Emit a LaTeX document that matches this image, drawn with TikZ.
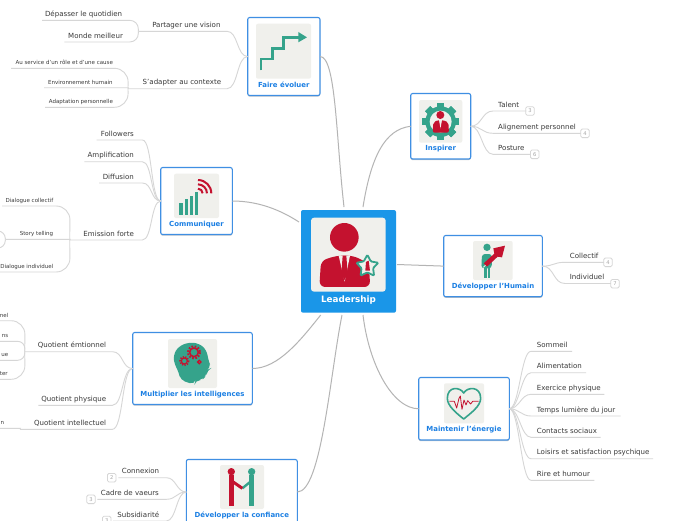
\documentclass[tikz,border=0pt]{standalone}
\usepackage{fontspec}
\setmainfont{DejaVu Sans}
\usetikzlibrary{shapes.geometric,shadows}
\definecolor{bluebr}{HTML}{3F8FE3}
\definecolor{bluetx}{HTML}{1B7FE3}
\definecolor{bluefill}{HTML}{1A96E8}
\definecolor{imgbg}{HTML}{F0F0EC}
\definecolor{ired}{HTML}{C4122F}
\definecolor{igreen}{HTML}{35A38B}
\definecolor{linkc}{HTML}{D6D6D6}
\definecolor{mainc}{HTML}{B4B4B4}
\definecolor{leaftx}{HTML}{3A3A3A}
\tikzset{
  box/.style={draw=bluebr,line width=1.1pt,fill=white,rounded corners=2pt,inner sep=0pt,outer sep=0pt,
    drop shadow={shadow xshift=0pt,shadow yshift=-1.2pt,opacity=.45}},
  rootbox/.style={fill=bluefill,rounded corners=2pt,inner sep=0pt,outer sep=0pt},
  imgpanel/.style={fill=imgbg,rounded corners=2pt},
  boxlabel/.style={font=\fontsize{6.95}{8}\selectfont\bfseries,text=bluetx,inner sep=0pt},
  rootlabel/.style={font=\fontsize{8.8}{10}\selectfont\bfseries,text=white,inner sep=0pt},
  leaf/.style={font=\fontsize{7.05}{8}\selectfont,text=leaftx,inner xsep=0pt,inner ysep=3.8pt,text depth=0pt,text height=5pt},
  small/.style={font=\fontsize{5.5}{6}\selectfont,text=leaftx,inner xsep=0pt,inner ysep=3.2pt,text depth=0pt,text height=4pt},
  link/.style={draw=linkc,line width=.9pt},
  bracket/.style={link,rounded corners=9pt},
  tightbracket/.style={link,rounded corners=7.5pt},
  widebracket/.style={link,rounded corners=14pt},
  mainlink/.style={draw=mainc,line width=1pt},
  badge/.style={draw=linkc,line width=.8pt,fill=white,rounded corners=1.5pt,minimum width=8.6pt,minimum height=8.6pt,inner sep=0pt,font=\fontsize{5.2}{5}\selectfont,text=gray!70},
}
\newcommand{\boxat}[6][box]{%
  \pgfmathsetlengthmacro\bw{(#5-#3)*1pt}\pgfmathsetlengthmacro\bh{(#6-#4)*1pt}%
  \node[#1,minimum width=\bw,minimum height=\bh] (#2) at ({(#3+#5)/2},{(#4+#6)/2}) {};}
\newcommand{\leafR}[7][leaf]{%
  \pgfmathsetlengthmacro\lw{(#5-#3)*1pt}\pgfmathsetlengthmacro\lp{(#6-#3)*1pt}%
  \node[#1,anchor=south west] (#2) at (#3,#4) {\makebox[\lw][l]{\hspace{\lp}#7}};}
\newcommand{\leafL}[7][leaf]{%
  \pgfmathsetlengthmacro\lw{(#5-#3)*1pt}\pgfmathsetlengthmacro\lp{(#5-#6)*1pt}%
  \node[#1,anchor=south west] (#2) at (#3,#4) {\makebox[\lw][r]{#7\hspace{\lp}}};}
\newcommand{\toL}[3][8]{\draw[link] (#2.west) .. controls +(-#1,0) and +(#1,0) .. (#3.south east) -- (#3.south west);}
\newcommand{\toR}[3][8]{\draw[link] (#2.east) .. controls +(#1,0) and +(-#1,0) .. (#3.south west) -- (#3.south east);}
\newcommand{\brk}[3][bracket]{\draw[#1] (#2.south west) -- (#3.south east) -- (#3.south west);}
\begin{document}
\begin{tikzpicture}[x=1pt,y=-1pt]
\useasboundingbox (0,0) rectangle (696,520);
\clip (0,0) rectangle (696,520);
\fill[white] (0,0) rectangle (696,520);

% boxes
\boxat[rootbox]{lead}{301}{210}{396}{312.7}
\boxat{faire}{247.7}{17.5}{320}{95.5}
\boxat{insp}{410.7}{93.5}{470.7}{159}
\boxat{hum}{443.7}{235.5}{542.3}{296.7}
\boxat{ener}{418.7}{377.5}{509.3}{440}
\boxat{conf}{186.3}{459.5}{297.3}{540}
\boxat{intel}{132.7}{332.5}{252.3}{404.5}
\boxat{comm}{160.7}{167.5}{232.3}{234.5}

% image panels
\fill[imgpanel,rounded corners=3pt] (311,217.7) rectangle (385.7,291.7);
\fill[imgpanel] (256,23.7) rectangle (311,78.7);
\fill[imgpanel] (419,100) rectangle (462.3,142.7);
\fill[imgpanel] (473,241) rectangle (512.7,280);
\fill[imgpanel] (444,383.3) rectangle (484,423.3);
\fill[imgpanel] (220,465) rectangle (264,509);
\fill[imgpanel] (168,339) rectangle (217,388);
\fill[imgpanel] (174,173.7) rectangle (219,218);

% box labels
\node[rootlabel] (leadL) at (348.5,300.3) {Leadership};
\node[boxlabel] (faireL) at (283.8,84.7) {Faire évoluer};
\node[boxlabel] (inspL) at (440.7,148.6) {Inspirer};
\node[boxlabel] (humL) at (493,286.9) {Développer l'Humain};
\node[boxlabel] (enerL) at (464,429.5) {Maintenir l'énergie};
\node[boxlabel] (confL) at (241.8,515.5) {Développer la confiance};
\node[boxlabel] (intelL) at (192.5,394.5) {Multiplier les intelligences};
\node[boxlabel] (commL) at (196.5,224.5) {Communiquer};

% icon: leadership
\begin{scope}[shift={(290,200)},x=.3333pt,y=-.3333pt]
  \fill[ired] (163,112) circle (43);
  \fill[ired,rounded corners=6pt] (88,261) -- (93,182) -- (140,167) -- (190,167) -- (236,190) -- (241,261) -- cycle;
  \fill[imgbg] (146,167) -- (180,167) -- (164,245) -- cycle;
  \fill[ired] (158,167) -- (169,167) -- (173,222) -- (163.5,240) -- (154,222) -- cycle;
  \node[star,star points=5,star point ratio=1.9,draw=igreen,fill=imgbg,line width=1.8pt,minimum size=23pt,inner sep=0pt,rounded corners=1pt] (leadstar) at (232,199) {};
  \fill[ired] (228,186) -- (236,182) -- (240,212) -- (226,212) -- cycle;
\end{scope}

% icon: stairs
\begin{scope}[x=.3333pt,y=-.3333pt]
  \draw[igreen,line width=2.5pt] (783,211) -- (783,177) -- (817,177) -- (817,145) -- (850,145) -- (850,112) -- (897,112);
  \fill[igreen] (895,96) -- (921,112) -- (895,127) -- cycle;
\end{scope}

% icon: gear
\begin{scope}[shift={(400,85)},x=.3333pt,y=-.3333pt]
  \foreach \a in {0,45,...,315}
    \fill[igreen,rotate around={\a:(122,110)}] (111,55) rectangle (133,165);
  \fill[igreen] (122,110) circle (46);
  \fill[imgbg] (122,110) circle (33);
  \fill[ired] (121,90) circle (12);
  \fill[ired,rounded corners=2pt] (98,143) -- (100,112) -- (115,105) -- (128,105) -- (145,112) -- (147,143) -- cycle;
  \fill[imgbg] (117,105) -- (126,105) -- (121.5,130) -- cycle;
\end{scope}

% icon: human
\begin{scope}[shift={(435,230)},x=.3333pt,y=-.3333pt]
  \fill[igreen] (156,52) circle (11);
  \fill[igreen,rounded corners=3pt] (139,115) -- (141,72) -- (171,72) -- (170,115) -- cycle;
  \fill[igreen] (147,100) rectangle (155.5,143);
  \fill[igreen] (157.5,100) rectangle (166,143);
  \draw[imgbg,line width=.8pt] (145,112) -- (184,76);
  \fill[ired] (146,100) -- (178,71) -- (175,55) -- (210,47) -- (201,82) -- (188,80) -- (156,110) -- cycle;
\end{scope}

% icon: heart
\begin{scope}[shift={(410,330)},x=.3333pt,y=-.3333pt]
  \draw[igreen,line width=1.6pt,line join=round] (161,189) .. controls (150,170) and (112,168) .. (112,205)
     .. controls (112,228) and (140,250) .. (161,267) .. controls (182,250) and (212,228) .. (212,205)
     .. controls (212,168) and (172,170) .. (161,189) -- cycle;
  \draw[ired,line width=.8pt,line join=round] (118,214) -- (133,214) -- (140,234) -- (147,205) -- (151,198) -- (156,238) -- (162,210) -- (168,225) -- (173,212) -- (182,222) -- (188,214) -- (206,214);
\end{scope}

% icon: handshake
\begin{scope}[shift={(90,440)},x=.3333pt,y=-.3333pt]
  \fill[ired] (424,95) circle (11);
  \fill[igreen] (485,95) circle (11);
  \draw[igreen,line width=2.4pt] (485,122) -- (457,145);
  \draw[igreen,line width=4.4pt] (485,106) -- (485,197);
  \draw[ired,line width=4.4pt] (424,106) -- (424,197);
  \draw[ired,line width=3pt] (424,122) -- (457,145);
\end{scope}

% icon: head
\begin{scope}[shift={(0,300)},x=.3333pt,y=-.3333pt]
  \fill[igreen,rounded corners=5pt] (541,240) -- (536,215) -- (523,192) -- (520,165) -- (535,140) -- (565,127) -- (597,130) -- (620,150) -- (625,180) -- (634,204) -- (621,210) -- (619,228) -- (606,240) -- (587,240) -- (583,254) -- cycle;
  \draw[ired,line width=1.5pt] (582,157) circle (13);
  \draw[ired,line width=2pt,dash pattern=on 1.6pt off 1.6pt] (582,157) circle (18);
  \draw[ired,line width=1.2pt] (553,183) circle (9);
  \draw[ired,line width=1.6pt,dash pattern=on 1.3pt off 1.3pt] (553,183) circle (13);
  \draw[ired,line width=1.3pt] (598,186) circle (5);
\end{scope}

% icon: signal
\begin{scope}[shift={(0,160)},x=.3333pt,y=-.3333pt]
  \fill[igreen] (538,130) rectangle (548,165);
  \fill[igreen] (555,118) rectangle (564,165);
  \fill[igreen] (570,108) rectangle (580,165);
  \fill[igreen] (586,97) rectangle (595,165);
  \foreach \r in {14,27,40}
    \draw[ired,line width=2pt] (594,100-\r) arc[start angle=-90,end angle=0,radius=\r];
\end{scope}

% leaves: Faire
\leafL{partager}{138.3}{31.3}{226.7}{220.3}{Partager une vision}
\leafL{adapter}{128}{88.7}{226.7}{221}{S'adapter au contexte}
\leafL{depasser}{42}{20.3}{138.3}{122}{Dépasser le quotidien}
\leafL{monde}{64.3}{42}{138.3}{122.7}{Monde meilleur}
\leafL[small]{service}{11}{68.3}{128}{112.7}{Au service d'un rôle et d'une cause}
\leafL[small]{envir}{44}{87.7}{128}{112.5}{Environnement humain}
\leafL[small]{adapt}{45}{107.3}{128}{112.7}{Adaptation personnelle}
% leaves: Communiquer
\leafL{follow}{96.7}{140}{142}{133.7}{Followers}
\leafL{ampli}{84.3}{161.7}{142}{133.7}{Amplification}
\leafL{diffu}{99}{183}{142}{133.7}{Diffusion}
\leafL{emiss}{69.7}{240}{142}{133.7}{Emission forte}
\leafL[small]{dcoll}{2}{206}{69.7}{53}{Dialogue collectif}
\leafL[small]{story}{5.3}{239.3}{69.7}{53}{Story telling}
\leafL[small]{dind}{0}{272}{69.7}{53}{Dialogue individuel}
\coordinate (storyA) at (-6,231);
\coordinate (storyB) at (-6,248);
% leaves: Intelligences
\leafL{qemo}{24.7}{351.7}{112}{106}{Quotient émtionnel}
\leafL{qphy}{38.3}{405.3}{112}{106}{Quotient physique}
\leafL{qint}{20}{429.3}{112}{106}{Quotient intellectuel}
\leafL[small]{k1}{-10}{320.7}{24.7}{8}{nel}
\leafL[small]{k2}{-10}{341.3}{24.7}{8}{ns}
\leafL[small]{k3}{-10}{360.3}{24.7}{8}{ue}
\leafL[small]{k4}{-10}{379.3}{24.7}{7.5}{ter}
\leafL[small]{k5}{-10}{428.3}{20}{4}{n}
% leaves: Confiance
\leafL{conx}{118.3}{477.7}{166}{159}{Connexion}
\leafL{cadre}{97.3}{499.3}{166}{158.7}{Cadre de vaeurs}
\leafL{subs}{113}{521}{166}{159}{Subsidiarité}
% leaves: Inspirer
\leafR{talent}{493}{111}{526}{498}{Talent}
\leafR{align}{493}{133.3}{580.5}{498}{Alignement personnel}
\leafR{post}{493}{154.3}{530.5}{498}{Posture}
% leaves: Humain
\leafR{coll}{565}{262.3}{603.5}{569.7}{Collectif}
\leafR{indi}{565}{283.5}{610.5}{569.7}{Individuel}
% leaves: Energie
\leafR{somm}{531}{351.3}{571.7}{536.7}{Sommeil}
\leafR{alim}{531}{372.7}{585.7}{536.7}{Alimentation}
\leafR{exer}{531}{394.3}{604}{536.7}{Exercice physique}
\leafR{temps}{531}{416}{620.3}{536.7}{Temps lumière du jour}
\leafR{cont}{531}{437.3}{600.3}{536.7}{Contacts sociaux}
\leafR{lois}{531}{458.7}{652.7}{536.7}{Loisirs et satisfaction psychique}
\leafR{rire}{531}{480.3}{594}{536.7}{Rire et humour}

% badges
\node[badge] (b1) at (530,111) {3};
\node[badge] (b2) at (585,133.3) {4};
\node[badge] (b3) at (534.7,154.3) {6};
\node[badge] (b4) at (608,262.3) {4};
\node[badge] (b5) at (615,283.7) {7};
\node[badge] (b6) at (111.7,477.7) {2};
\node[badge] (b7) at (91,499.3) {3};
\node[badge] (b8) at (106.7,520.5) {3};

% level-1 connectors
\toL[11]{faire}{partager}
\toL[11]{faire}{adapter}
\toL[10]{comm}{follow}
\toL[10]{comm}{ampli}
\toL[10]{comm}{diffu}
\toL[10]{comm}{emiss}
\toL[11]{intel}{qemo}
\toL[11]{intel}{qphy}
\toL[11]{intel}{qint}
\draw[link] (conf.west |- 0,492) .. controls +(-10,0) and +(10,0) .. (conx.south east) -- (conx.south west);
\draw[link] (conf.west |- 0,492) .. controls +(-10,0) and +(10,0) .. (cadre.south east) -- (cadre.south west);
\draw[link] (conf.west |- 0,492) .. controls +(-10,0) and +(10,0) .. (subs.south east) -- (subs.south west);
\toR[11]{insp}{talent}
\toR[11]{insp}{align}
\toR[11]{insp}{post}
\toR[12]{hum}{coll}
\toR[12]{hum}{indi}
\toR[10]{ener}{somm}
\toR[10]{ener}{alim}
\toR[10]{ener}{exer}
\toR[10]{ener}{temps}
\toR[10]{ener}{cont}
\toR[10]{ener}{lois}
\toR[10]{ener}{rire}

% level-2 brackets
\brk{partager}{depasser}
\brk{partager}{monde}
\brk[widebracket]{adapter}{service}
\brk[link]{adapter}{envir}
\brk[widebracket]{adapter}{adapt}
\brk[widebracket]{emiss}{dcoll}
\brk[link]{emiss}{story}
\brk[widebracket]{emiss}{dind}
\draw[tightbracket] (story.south west) |- (storyA);
\draw[tightbracket] (story.south west) |- (storyB);
\brk[widebracket]{qemo}{k1}
\brk[tightbracket]{qemo}{k2}
\brk[tightbracket]{qemo}{k3}
\brk[widebracket]{qemo}{k4}
\brk[link]{qint}{k5}

% main connectors
\coordinate (tFaire) at (344,207);
\coordinate (tInsp) at (363,207);
\coordinate (tComm) at (299,222);
\coordinate (tHum) at (397,264.5);
\coordinate (tEner) at (363,315);
\coordinate (tConf) at (342,315);
\coordinate (tIntel) at (320.7,315);
\draw[mainlink] (faire.east) .. controls +(16,0) and +(-8,-70) .. (tFaire);
\draw[mainlink] (insp.west) .. controls +(-26,3) and +(8,-50) .. (tInsp);
\draw[mainlink] (comm.east) .. controls +(30,0) and +(-14,-9) .. (tComm);
\draw[mainlink] (hum.west) -- (tHum);
\draw[mainlink] (ener.west) .. controls +(-26,0) and +(6,50) .. (tEner);
\draw[mainlink] (conf.east |- 0,492) .. controls +(24,0) and +(-12,60) .. (tConf);
\draw[mainlink] (intel.east) .. controls +(26,0) and +(-20,25) .. (tIntel);
\end{tikzpicture}
\end{document}
